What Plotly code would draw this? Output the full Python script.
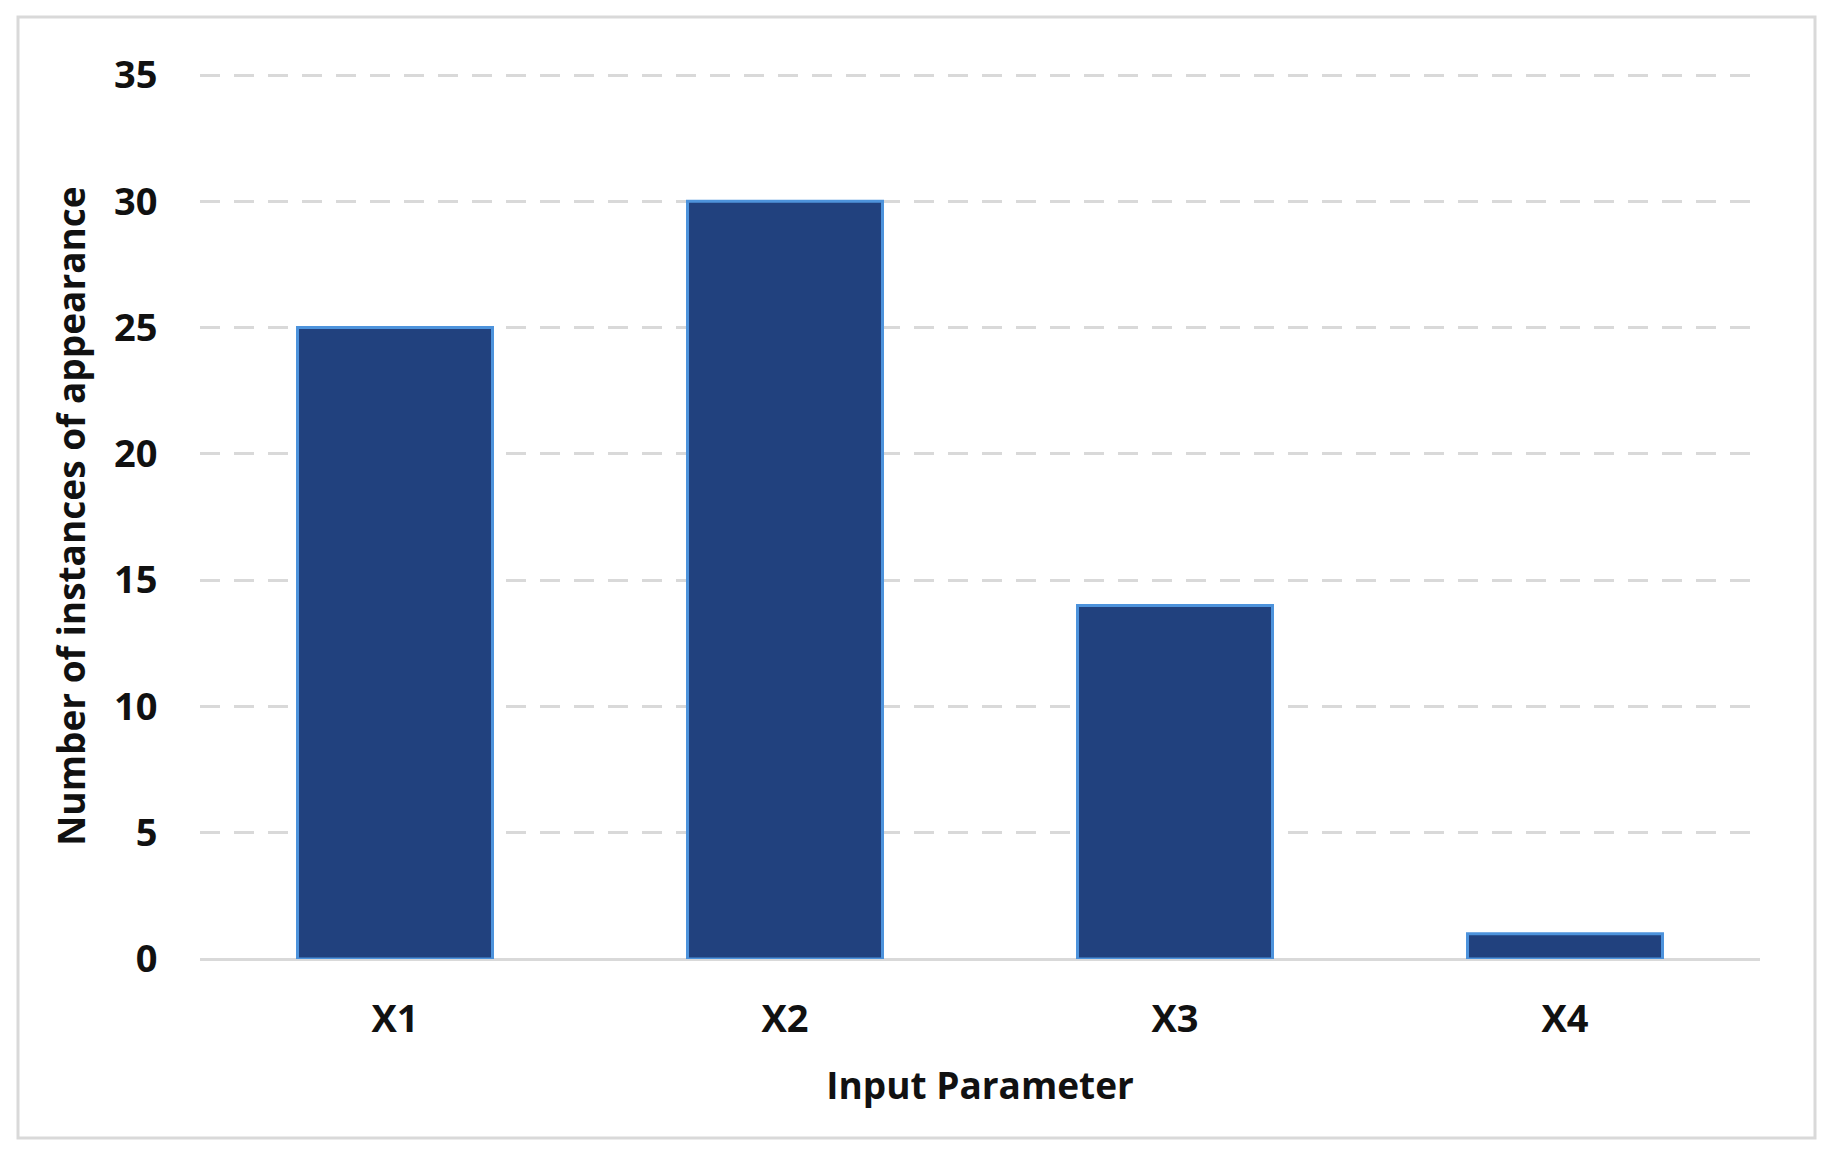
import plotly.graph_objects as go

categories = ["X1", "X2", "X3", "X4"]
counts = [25, 30, 14, 1]
y_ticks = [0, 5, 10, 15, 20, 25, 30, 35]

W, H = 1840, 1157
OFF = 8  # page body margin
L, R, T, B = 200 - OFF, 80 + OFF, 73 - OFF, 198 + OFF
pw, ph = W - L - R, H - T - B

fig = go.Figure()
fig.add_trace(go.Bar(
    x=categories, y=counts, width=0.5,
    marker=dict(color="#21417e", line=dict(color="#4d93dc", width=3)),
))

def px2paper_x(px):
    return (px - OFF - L) / pw

def px2paper_y(py):
    return (H - B - (py - OFF)) / ph

fig.add_shape(type="rect", xref="paper", yref="paper",
              x0=px2paper_x(18), x1=px2paper_x(1815),
              y0=px2paper_y(1138), y1=px2paper_y(17),
              line=dict(color="#d9d9d9", width=3), fillcolor="rgba(0,0,0,0)",
              layer="below")

font_family = "Open Sans, Noto Sans, sans-serif"
fig.update_layout(
    width=W, height=H,
    margin=dict(l=L, r=R, t=T, b=B),
    paper_bgcolor="white", plot_bgcolor="white",
    showlegend=False,
    font=dict(family=font_family, color="#111111"),
    xaxis=dict(
        title=dict(text="<b>Input Parameter</b>", font=dict(size=37), standoff=32),
        tickfont=dict(size=38, family=font_family, weight="bold"),
        showgrid=False, showline=True, linecolor="#d9d9d9", linewidth=2,
        ticks="outside", ticklen=25, tickcolor="rgba(0,0,0,0)",
    ),
    yaxis=dict(
        title=dict(text="<b>Number of instances of appearance</b>", font=dict(size=37), standoff=16),
        range=[0, 35.08], tickvals=y_ticks,
        tickfont=dict(size=38, family=font_family, weight="bold"),
        showgrid=True, gridcolor="#d9d9d9", gridwidth=3, griddash="20px,14px",
        zeroline=True, zerolinecolor="#d9d9d9", zerolinewidth=2,
        ticks="outside", ticklen=34, tickcolor="rgba(0,0,0,0)",
        showline=False,
    ),
)

fig.write_html("out.html")
